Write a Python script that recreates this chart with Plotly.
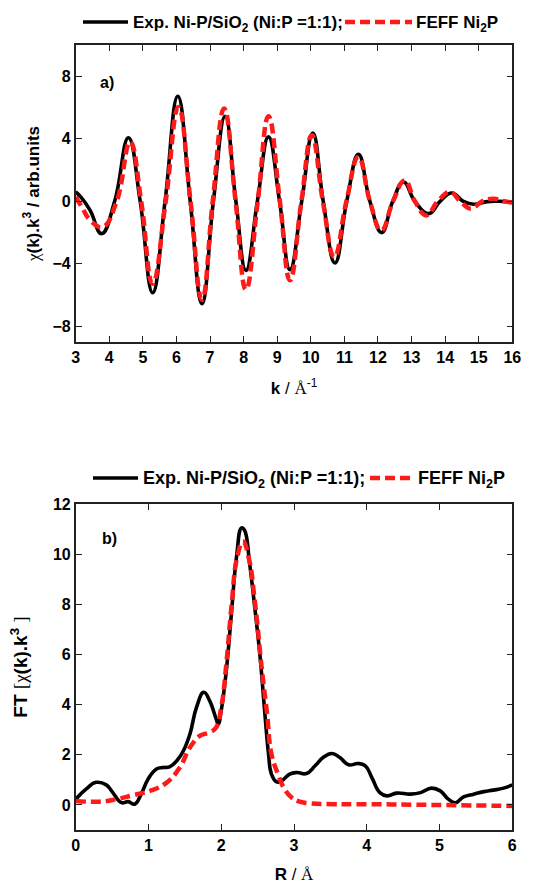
import plotly.graph_objects as go

# ---------- Panel a) chi(k)*k^3 ----------
k_exp = [3.0, 3.15, 3.43, 3.77, 4.16, 4.57, 4.92, 5.29, 5.66, 6.04, 6.41, 6.76, 7.10, 7.45, 7.77,
         8.07, 8.41, 8.74, 9.07, 9.38, 9.73, 10.06, 10.37, 10.72, 11.07, 11.42, 11.76, 12.11,
         12.44, 12.76, 13.10, 13.51, 13.85, 14.20, 14.54, 14.85, 15.25, 15.6, 16.0]
chi_exp = [0.6, 0.28, -0.58, -2.07, 0.0, 4.07, 0.0, -5.85, 0.0, 6.72, 0.0, -6.55, 0.0, 5.44, 0.0,
           -4.42, 0.0, 4.12, 0.0, -4.37, 0.0, 4.37, 0.0, -3.95, 0.0, 3.0, 0.0, -2.0,
           0.0, 1.24, 0.0, -0.79, 0.0, 0.53, 0.0, -0.19, -0.02, 0.0, -0.05]

k_feff = [3.0, 3.18, 3.43, 3.80, 4.22, 4.62, 4.95, 5.29, 5.68, 6.06, 6.42, 6.76, 7.08, 7.42, 7.76,
          8.07, 8.42, 8.74, 9.08, 9.38, 9.72, 10.03, 10.36, 10.70, 11.06, 11.42, 11.76, 12.10,
          12.45, 12.80, 13.10, 13.44, 13.78, 14.14, 14.45, 14.77, 15.10, 15.45, 15.75, 16.0]
chi_feff = [0.28, -0.36, -1.2, -1.64, 0.0, 3.8, 0.0, -5.27, 0.0, 6.04, 0.0, -6.3, 0.0, 5.93, 0.0,
            -5.65, 0.0, 5.44, 0.0, -5.05, 0.0, 4.22, 0.0, -3.56, 0.0, 2.84, 0.0, -1.86,
            0.0, 1.34, 0.0, -0.9, 0.0, 0.6, 0.0, -0.47, 0.0, 0.17, 0.0, -0.08]

# ---------- Panel b) Fourier transform ----------
r_exp = [0.0, 0.15, 0.28, 0.42, 0.51, 0.63, 0.72, 0.81, 0.90, 0.995, 1.11, 1.20, 1.29, 1.39, 1.48,
         1.57, 1.66, 1.76, 1.84, 1.93, 1.96, 2.0, 2.07, 2.14, 2.21, 2.28, 2.32, 2.39, 2.46, 2.53,
         2.60, 2.65, 2.69, 2.76, 2.83, 2.94, 3.04, 3.17, 3.29, 3.40, 3.52, 3.63, 3.75, 3.88, 3.98,
         4.07, 4.18, 4.28, 4.41, 4.60, 4.74, 4.89, 5.01, 5.12, 5.22, 5.33, 5.47, 5.61, 5.74, 5.88, 6.0]
ft_exp = [0.23, 0.65, 0.9, 0.8, 0.49, 0.09, 0.13, 0.03, 0.43, 1.03, 1.43, 1.49, 1.52, 1.76, 2.16,
          2.83, 3.89, 4.49, 4.16, 3.43, 3.23, 3.76, 5.36, 7.63, 9.89, 11.05, 10.96, 9.63, 7.89, 6.03,
          3.63, 2.03, 1.23, 0.92, 0.96, 1.23, 1.29, 1.25, 1.56, 1.89, 2.05, 1.89, 1.6, 1.65, 1.56,
          1.09, 0.49, 0.36, 0.47, 0.43, 0.49, 0.67, 0.56, 0.23, 0.09, 0.32, 0.43, 0.53, 0.59, 0.67, 0.8]

r_feff = [0.0, 0.33, 0.56, 0.79, 1.02, 1.25, 1.43, 1.57, 1.71, 1.84, 1.93, 2.0, 2.07, 2.14, 2.22,
          2.30, 2.38, 2.46, 2.56, 2.63, 2.69, 2.78, 2.87, 2.97, 3.08, 3.22, 3.54, 4.0, 4.92, 6.0]
ft_feff = [0.16, 0.13, 0.23, 0.39, 0.56, 0.89, 1.49, 2.29, 2.76, 2.89, 3.09, 3.89, 5.63, 7.89, 9.89,
           10.5, 9.83, 8.16, 5.36, 3.63, 2.03, 1.23, 0.63, 0.29, 0.13, 0.06, 0.03, 0.03, 0.0, -0.04]

name_exp = "Exp. Ni-P/SiO<sub>2</sub> (Ni:P =1:1);"
name_feff = "FEFF Ni<sub>2</sub>P"

FONT = "Liberation Sans, Arial, sans-serif"
W, H = 534, 884
BLACK_W, RED_W, RED_DASH = 3.6, 4.5, "10px,5px"
RED = "#ff1a1a"

fig = go.Figure()
black = dict(color="black", width=BLACK_W, shape="spline", smoothing=1.3)
red = dict(color=RED, width=RED_W, dash=RED_DASH, shape="spline", smoothing=1.3)

fig.add_trace(go.Scatter(x=k_exp, y=chi_exp, mode="lines", line=black, name=name_exp,
                         xaxis="x", yaxis="y", showlegend=False))
fig.add_trace(go.Scatter(x=k_feff, y=chi_feff, mode="lines", line=red, name=name_feff,
                         xaxis="x", yaxis="y", showlegend=False))
fig.add_trace(go.Scatter(x=r_exp, y=ft_exp, mode="lines", line=black, name=name_exp,
                         xaxis="x2", yaxis="y2", showlegend=False))
fig.add_trace(go.Scatter(x=r_feff, y=ft_feff, mode="lines", line=red, name=name_feff,
                         xaxis="x2", yaxis="y2", showlegend=False))


def px(x):
    return x / W


def py(y):
    return 1 - y / H


xd = [px(75.7), px(512.3)]
y1d = [py(342), py(45)]
y2d = [py(830), py(504)]

tickfont = dict(family=FONT, size=16, color="black", weight="bold")
axcommon = dict(showline=True, linecolor="#222", linewidth=1.6, mirror="ticks", ticks="inside",
                ticklen=6, tickwidth=1.4, tickcolor="#222", showgrid=False, zeroline=False,
                tickfont=tickfont, automargin=False)

SER = "<span style='font-family:Liberation Serif;font-weight:normal'>"

# hand-built legends (sample lines longer than plotly's legend allows)
shapes = []
annotations = []


def legend_row(yc, x_black, x_text1, x_red, x_text2, size):
    shapes.append(dict(type="line", xref="paper", yref="paper", x0=px(x_black[0]), x1=px(x_black[1]),
                       y0=py(yc), y1=py(yc), line=dict(color="black", width=BLACK_W)))
    shapes.append(dict(type="line", xref="paper", yref="paper", x0=px(x_red[0]), x1=px(x_red[1]),
                       y0=py(yc), y1=py(yc), line=dict(color=RED, width=RED_W, dash=RED_DASH)))
    annotations.append(dict(text="<b>" + name_exp + "</b>", xref="paper", yref="paper", x=px(x_text1),
                            y=py(yc + 2), xanchor="left", yanchor="middle", showarrow=False,
                            font=dict(size=size, family=FONT)))
    annotations.append(dict(text="<b>" + name_feff + "</b>", xref="paper", yref="paper", x=px(x_text2),
                            y=py(yc + 2), xanchor="left", yanchor="middle", showarrow=False,
                            font=dict(size=size, family=FONT)))


legend_row(22, (83, 128), 131, (345, 412), 414, 17)
legend_row(478, (93, 138), 141, (370, 415), 416, 18)

annotations += [
    dict(text="<b>a)</b>", x=3.93, y=7.6, xref="x", yref="y", showarrow=False,
         font=dict(size=16, family=FONT)),
    dict(text="<b>b)</b>", x=0.47, y=10.64, xref="x2", yref="y2", showarrow=False,
         font=dict(size=16, family=FONT)),
]

fig.update_layout(
    width=W, height=H, margin=dict(l=0, r=0, t=0, b=0, autoexpand=False),
    paper_bgcolor="white", plot_bgcolor="white",
    font=dict(family=FONT, color="black"),
    showlegend=False,
    xaxis=dict(domain=xd, range=[3, 16], dtick=1, anchor="y",
               title=dict(text="<b>k</b> / " + SER + "Å</span><sup>-1</sup>",
                          font=dict(size=17, family=FONT), standoff=17), **axcommon),
    yaxis=dict(domain=y1d, range=[-9, 10], tickvals=[-8, -4, 0, 4, 8], anchor="x",
               title=dict(text=SER + "χ</span><b>(k).k<sup>3</sup> / arb.units</b>",
                          font=dict(size=17, family=FONT), standoff=9), **axcommon),
    xaxis2=dict(domain=xd, range=[0, 6], dtick=1, anchor="y2",
                title=dict(text="<b>R</b> / " + SER + "Å</span>",
                           font=dict(size=17, family=FONT), standoff=17), **axcommon),
    yaxis2=dict(domain=y2d, range=[-1, 12], dtick=2, tick0=0, anchor="x2",
                title=dict(text="<b>FT</b> " + SER + "[χ</span><b>(k).k<sup>3</sup></b> " + SER + "]</span>",
                           font=dict(size=19, family=FONT), standoff=20), **axcommon),
    shapes=shapes,
    annotations=annotations,
)

fig.write_html(
    "out.html",
    config={"displayModeBar": False},
    post_script=("document.documentElement.style.margin='0px';"
                 "document.documentElement.style.overflow='hidden';"
                 "document.body.style.margin='0px';"
                 "document.body.style.overflow='hidden';"),
)
